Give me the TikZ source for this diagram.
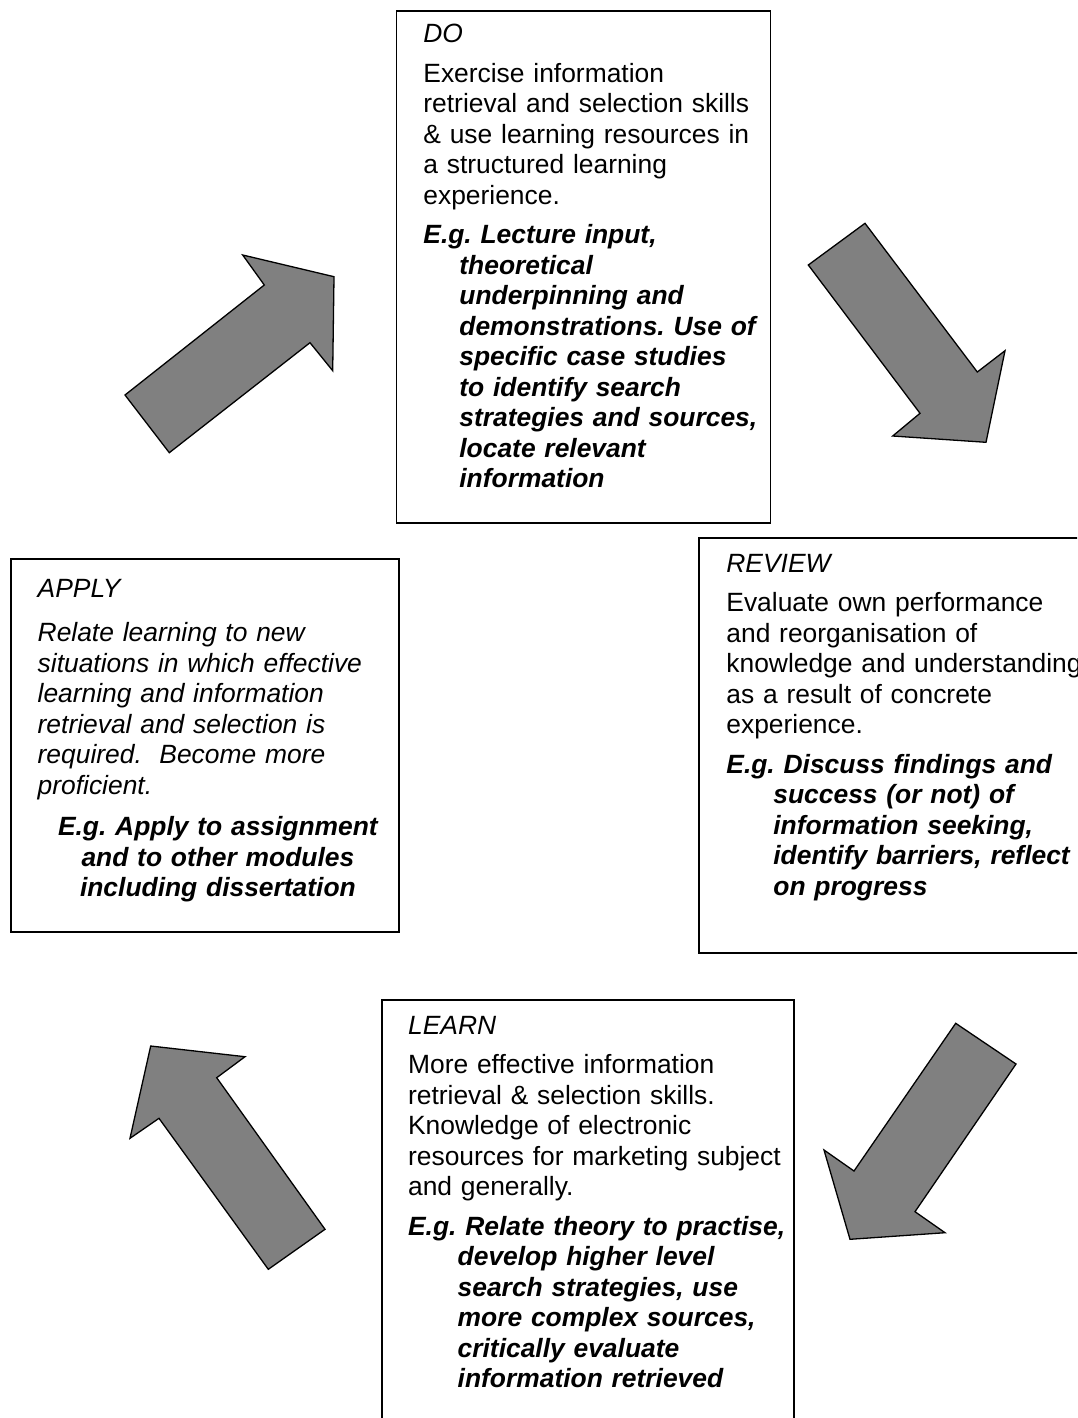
\documentclass[tikz,border=0pt]{standalone}
\usepackage{fontspec}
\setmainfont{Liberation Sans}
\definecolor{ink}{HTML}{000000}
\definecolor{arrowgrey}{HTML}{808080}

\begin{document}
\frenchspacing
\begin{tikzpicture}[x=0.5pt, y=-0.5pt, font=\fontsize{13.2pt}{15.25pt}\selectfont]
  % one unit = one pixel of the page, y counted downwards
  \useasboundingbox (0,0) rectangle (1077,1418);
  \clip (0,0) rectangle (1077,1418);
  \def\gap{4.5pt}                       % space after a heading / before E.g.
  \def\egshift{18pt}                    % hanging indent of the E.g. lines
  \newcommand{\eg}{\bfseries\itshape}   % the worked example paragraphs
  \newcommand{\egind}{\hspace*{\egshift}}
  \tikzset{
    panel/.style={draw=ink, line width=0.8pt},
    paneltext/.style={anchor=base west, inner sep=0pt, align=left,
                      text width=250pt, text=ink},
    cyclearrow/.style={draw=ink, fill=arrowgrey, line width=0.65pt,
                       line join=miter}}

  % ========== DO (top) ======================================================
  \draw[panel] (396.5,11) rectangle (770.5,523);
  \node[paneltext] (dotext) at (423,43) {%
    {\itshape DO}\par\vspace{\gap}
    Exercise information\\
    retrieval and selection skills\\
    \& use learning resources in\\
    a structured learning\\
    experience.\par\vspace{\gap}
    {\eg
    E.g. Lecture input,\\
    \egind theoretical\\
    \egind underpinning and\\
    \egind demonstrations. Use of\\
    \egind specific case studies\\
    \egind to identify search\\
    \egind strategies and sources,\\
    \egind locate relevant\\
    \egind information\par}};

  % ========== REVIEW (right) -- runs off the page edge =====================
  \draw[panel] (699,538) rectangle (1100,953);
  \node[paneltext] (reviewtext) at (726,572) {%
    \def\egshift{23.5pt}%
    {\itshape REVIEW}\par\vspace{\gap}
    Evaluate own performance\\
    and reorganisation of\\
    knowledge and understanding\\
    as a result of concrete\\
    experience.\par\vspace{\gap}
    {\eg
    E.g. Discuss findings and\\
    \egind success (or not) of\\
    \egind information seeking,\\
    \egind identify barriers, reflect\\
    \egind on progress\par}};

  % ========== LEARN (bottom) -- runs off the page foot =====================
  \draw[panel] (381.7,1000) rectangle (794,1440);
  \node[paneltext] (learntext) at (407.7,1034) {%
    \def\egshift{24.8pt}%
    {\itshape LEARN}\par\vspace{\gap}
    More effective information\\
    retrieval \& selection skills.\\
    Knowledge of electronic\\
    resources for marketing subject\\
    and generally.\par\vspace{\gap}
    {\eg
    E.g. Relate theory to practise,\\
    \egind develop higher level\\
    \egind search strategies, use\\
    \egind more complex sources,\\
    \egind critically evaluate\\
    \egind information retrieved\par}};

  % ========== APPLY (left): italic body, example set centred ===============
  \draw[panel] (11,559) rectangle (399,932);
  \node[paneltext, text width=180.2pt] (applytext) at (37.3,597) {%
    {\itshape APPLY}\par\vspace{7pt}
    {\itshape Relate learning to new\\
    situations in which effective\\
    learning and information\\
    retrieval and selection is\\
    required.\ \ Become more\\
    proficient.\par}\vspace{5.5pt}
    {\eg\centering
    E.g. Apply to assignment\\
    and to other modules\\
    including dissertation\par}};

  % --- the four block arrows of the cycle, clockwise from top left ---------
  \draw[cyclearrow] (125,395) -- (264.3,285) -- (242.7,255) -- (334,276.7)
    -- (332.7,370.7) -- (310,342.7) -- (169.3,452.7) -- cycle;
  \draw[cyclearrow] (865,223.3) -- (977.3,372) -- (1005,350.7) -- (986,442.3)
    -- (892.7,436) -- (920,413.3) -- (808.3,265) -- cycle;
  \draw[cyclearrow] (955.7,1023.3) -- (1016,1064) -- (915,1211.7) -- (945,1232.7)
    -- (850,1239.3) -- (824,1150) -- (854,1171) -- cycle;
  \draw[cyclearrow] (150.7,1046) -- (245,1056.7) -- (216.7,1077.7) -- (325,1229.3)
    -- (268.3,1269.3) -- (159,1118.3) -- (130,1138.3) -- cycle;
\end{tikzpicture}
\end{document}
